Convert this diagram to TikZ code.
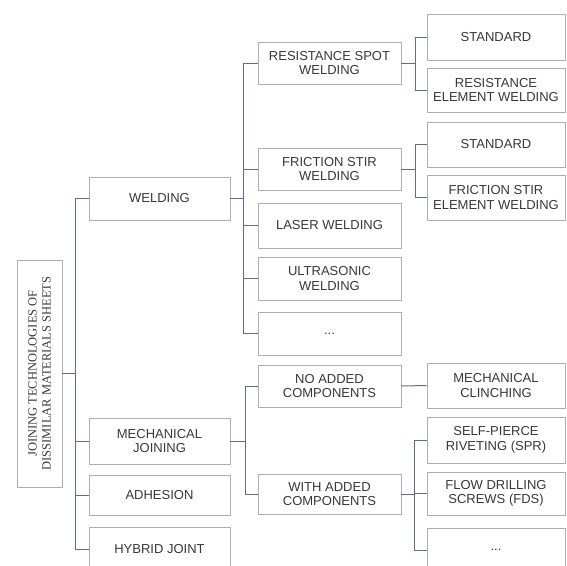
\documentclass[tikz,border=0pt]{standalone}
\usepackage{fontspec}
\setmainfont{Liberation Sans}
\newfontfamily\rootfont{Liberation Serif}
\definecolor{conncol}{RGB}{95,105,155}
\definecolor{boxcol}{RGB}{175,175,175}
\definecolor{txtcol}{RGB}{55,55,55}
\begin{document}
\begin{tikzpicture}[x=1pt,y=-1pt,
  box/.style={draw=boxcol,line width=0.8pt,align=center,inner sep=0pt,text=txtcol,
    font=\fontsize{13}{14.5}\selectfont},
  lone/.style={box,minimum width=141pt},
  ltwo/.style={box,minimum width=143pt},
  lthree/.style={box,minimum width=138pt},
  conn/.style={draw=conncol,line width=1pt}]
\useasboundingbox (0,0) rectangle (567,565);
% root
\node[draw=boxcol,line width=0.8pt,minimum width=45pt,minimum height=227pt,inner sep=0pt] (root) at (39.5,373.5) {};
\node[rotate=90,align=center,text=txtcol,font=\rootfont\fontsize{12.5}{14}\selectfont] (roottext) at (root.center) {JOINING TECHNOLOGIES OF\\DISSIMILAR MATERIALS SHEETS};
% level 1
\node[lone,minimum height=43pt] (weld) at (159.5,198.5) {WELDING};
\node[lone,minimum height=46pt] (mech) at (159.5,441) {MECHANICAL\\JOINING};
\node[lone,minimum height=40pt] (adh) at (159.5,495) {ADHESION};
\node[lone,minimum height=44pt] (hyb) at (159.5,549) {HYBRID JOINT};
% level 2
\node[ltwo,minimum height=42pt] (rsw) at (329.5,63) {RESISTANCE SPOT\\WELDING};
\node[ltwo,minimum height=42pt] (fsw) at (329.5,169) {FRICTION STIR\\WELDING};
\node[ltwo,minimum height=45pt] (laser) at (329.5,225.5) {LASER WELDING};
\node[ltwo,minimum height=43pt] (ultra) at (329.5,278.5) {ULTRASONIC\\WELDING};
\node[ltwo,minimum height=43pt] (wdots) at (329.5,333.5) {...};
\node[ltwo,minimum height=42pt] (noadd) at (329.5,386) {NO ADDED\\COMPONENTS};
\node[ltwo,minimum height=40pt] (withadd) at (329.5,494) {WITH ADDED\\COMPONENTS};
% level 3
\node[lthree,minimum height=46pt] (std1) at (496,37) {STANDARD};
\node[lthree,minimum height=44pt] (rew) at (496,90) {RESISTANCE\\ELEMENT WELDING};
\node[lthree,minimum height=45pt] (std2) at (496,144.5) {STANDARD};
\node[lthree,minimum height=45pt] (fsew) at (496,197.5) {FRICTION STIR\\ELEMENT WELDING};
\node[lthree,minimum height=45pt] (clinch) at (496,385.5) {MECHANICAL\\CLINCHING};
\node[lthree,minimum height=46pt] (spr) at (496,440) {SELF-PIERCE\\RIVETING (SPR)};
\node[lthree,minimum height=43pt] (fds) at (496,493.5) {FLOW DRILLING\\SCREWS (FDS)};
\node[lthree,minimum height=44pt] (mdots) at (496,550) {...};
% bracket positions
\coordinate (b0) at (75,0);
\coordinate (b1) at (243,0);
\coordinate (b2) at (245,0);
\coordinate (b3) at (415,0);
\coordinate (b4) at (415,0);
\coordinate (b5) at (414,0);
% root bracket
\draw[conn] (root.east) -- (b0 |- root.east);
\draw[conn] (b0 |- weld.west) -- (b0 |- hyb.west);
\foreach \n in {weld,mech,adh,hyb} \draw[conn] (b0 |- \n.west) -- (\n.west);
% welding bracket
\draw[conn] (weld.east) -- (b1 |- weld.east);
\draw[conn] (b1 |- rsw.west) -- (b1 |- wdots.west);
\foreach \n in {rsw,fsw,laser,ultra,wdots} \draw[conn] (b1 |- \n.west) -- (\n.west);
% mechanical bracket
\draw[conn] (mech.east) -- (b2 |- mech.east);
\draw[conn] (b2 |- noadd.west) -- (b2 |- withadd.west);
\foreach \n in {noadd,withadd} \draw[conn] (b2 |- \n.west) -- (\n.west);
% rsw bracket
\draw[conn] (rsw.east) -- (b3 |- rsw.east);
\draw[conn] (b3 |- std1.west) -- (b3 |- rew.west);
\foreach \n in {std1,rew} \draw[conn] (b3 |- \n.west) -- (\n.west);
% fsw bracket
\draw[conn] (fsw.east) -- (b4 |- fsw.east);
\draw[conn] (b4 |- std2.west) -- (b4 |- fsew.west);
\foreach \n in {std2,fsew} \draw[conn] (b4 |- \n.west) -- (\n.west);
% no added
\draw[conn] (noadd.east) -- (clinch.west);
% with added
\draw[conn] (withadd.east) -- (b5 |- withadd.east);
\draw[conn] (b5 |- spr.west) -- (b5 |- mdots.west);
\foreach \n in {spr,fds,mdots} \draw[conn] (b5 |- \n.west) -- (\n.west);
\end{tikzpicture}
\end{document}
